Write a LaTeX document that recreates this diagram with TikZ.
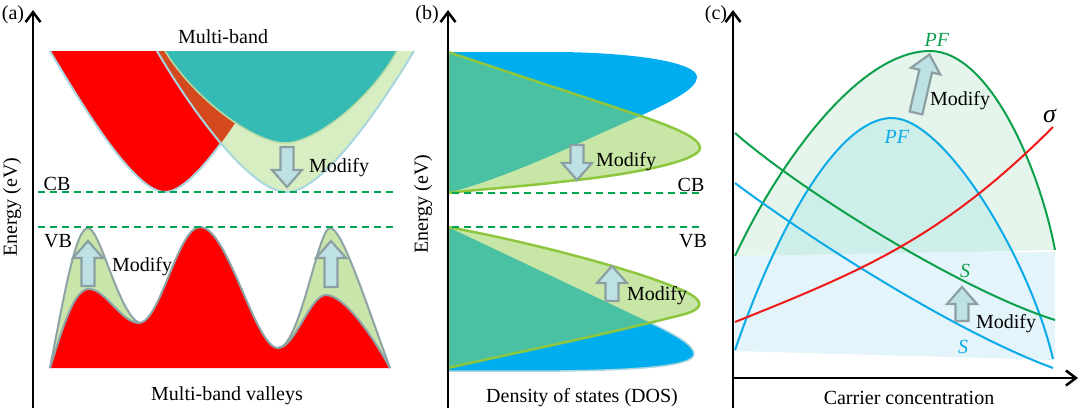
\documentclass[tikz,border=0pt]{standalone}
\usepackage{fontspec}
\setmainfont{Liberation Serif}
\usetikzlibrary{arrows.meta}

\definecolor{bandred}{HTML}{FF0000}
\definecolor{overlaporange}{HTML}{D5491F}
\definecolor{bandteal}{HTML}{36BBB4}
\definecolor{tealedge}{HTML}{B9DDA6}
\definecolor{bandlight}{HTML}{D7EEC3}
\definecolor{bumplight}{HTML}{C9E5A9}
\definecolor{edgeblue}{HTML}{A9D6DE}
\definecolor{edgegray}{HTML}{8DA3A6}
\definecolor{gapgreen}{HTML}{00A651}
\definecolor{dosblue}{HTML}{00AEEF}
\definecolor{dosteal}{HTML}{4BC1A3}
\definecolor{doslight}{HTML}{C8E6A5}
\definecolor{dosedge}{HTML}{8DC63F}
\definecolor{arrowfill}{HTML}{BEE1E6}
\definecolor{arrowedge}{HTML}{8C9FA3}
\definecolor{pfgreen}{HTML}{0DA04A}
\definecolor{pfblue}{HTML}{0BAAE8}
\definecolor{sigmared}{HTML}{F01818}
\definecolor{fillgreen}{HTML}{E5F5EC}
\definecolor{fillblue}{HTML}{E3F4FB}
\definecolor{fillboth}{HTML}{CDEEE9}

\tikzset{
  lbl/.style={font=\fontsize{20}{24}\selectfont, inner sep=0pt},
  axis/.style={line width=2.5pt, -{Straight Barb[length=10pt,width=15pt]}},
  gapline/.style={dash pattern=on 7pt off 5pt, line width=1.6pt, gapgreen},
  arrowbox/.style={fill=arrowfill, draw=arrowedge, line width=2.2pt},
  pics/modarrow/.style={code={
    \draw[arrowbox] (-6.5,0) -- (-6.5,-#1+17) -- (-15,-#1+17) -- (0,-#1)
      -- (15,-#1+17) -- (6.5,-#1+17) -- (6.5,0) -- cycle;}},
}

\begin{document}
\begin{tikzpicture}[x=1pt,y=-1pt]
  \useasboundingbox (0,0) rectangle (1080,408);

  % (a) multi-band
  \def\redvalley{(50,51) -- (280,51) .. controls (245,110) and (195,192) .. (165,192) .. controls (135,192) and (85,110) .. (50,51) -- cycle}
  \def\lightvalley{(157,51) .. controls (190,108) and (250,192) .. (287,192) .. controls (322,192) and (380,108) .. (414,51) -- cycle}
  \fill[bandred] \redvalley;
  \draw[edgeblue, line width=2pt] (50,51) .. controls (85,110) and (135,192) .. (165,192) .. controls (195,192) and (245,110) .. (280,51);
  \fill[bandlight] \lightvalley;
  \begin{scope}
    \clip \lightvalley;
    \fill[overlaporange] \redvalley;
  \end{scope}
  \fill[bandteal] (165,51) .. controls (195,100) and (255,143) .. (285,143) .. controls (315,143) and (370,100) .. (397,51) -- cycle;
  \draw[tealedge, line width=1.5pt] (165,51) .. controls (195,100) and (255,143) .. (285,143) .. controls (315,143) and (370,100) .. (397,51);
  \draw[edgeblue, line width=2pt] (157,51) .. controls (190,108) and (250,192) .. (287,192) .. controls (322,192) and (380,108) .. (414,51);

  \fill[bumplight] (50,368) .. controls (65,290) and (76,228) .. (88,228) .. controls (100,228) and (118,312) .. (139,323) -- cycle;
  \fill[bumplight] (278,348) .. controls (300,348) and (318,228) .. (330,228) .. controls (342,228) and (365,300) .. (390,368) -- cycle;
  \fill[bandred] (50,368) .. controls (65,320) and (75,289) .. (89,289) .. controls (105,289) and (122,323) .. (139,323)
    .. controls (160,323) and (178,227) .. (200,227) .. controls (228,227) and (255,348) .. (278,348)
    .. controls (295,348) and (310,295) .. (326,295) .. controls (345,295) and (375,340) .. (390,368) -- cycle;
  \draw[edgegray, line width=2pt] (50,368) .. controls (65,320) and (75,289) .. (89,289) .. controls (105,289) and (122,323) .. (139,323)
    .. controls (160,323) and (178,227) .. (200,227) .. controls (228,227) and (255,348) .. (278,348)
    .. controls (295,348) and (310,295) .. (326,295) .. controls (345,295) and (375,340) .. (390,368);
  \draw[edgegray, line width=2pt] (50,368) .. controls (65,290) and (76,228) .. (88,228) .. controls (100,228) and (118,312) .. (139,323);
  \draw[edgegray, line width=2pt] (278,348) .. controls (300,348) and (318,228) .. (330,228) .. controls (342,228) and (365,300) .. (390,368);

  \draw[gapline] (38,192) -- (397,192);
  \draw[gapline] (38,227) -- (397,227);
  \pic[rotate=180] at (287,147) {modarrow=40};
  \pic at (88,286) {modarrow=45};
  \pic at (331,287) {modarrow=46};
  \draw[axis] (33,408) -- (33,10);

  \node[lbl] (labA) at (13,15) {(a)};
  \node[lbl, rotate=90] (energyA) at (12,207) {Energy (eV)};
  \node[lbl] (multiband) at (223,37) {Multi-band};
  \node[lbl] (cbA) at (57,184) {CB};
  \node[lbl] (vbA) at (58,241) {VB};
  \node[lbl] (modifyA1) at (339,168) {Modify};
  \node[lbl] (modifyA2) at (142,267) {Modify};
  \node[lbl] (valleys) at (227,396) {Multi-band valleys};

  % (b) density of states
  \def\bluecb{(448,52) -- (560,52) .. controls (640,53) and (697,63) .. (697,77) .. controls (697,88) and (675,100) .. (640,116) .. controls (580,142) and (515,175) .. (448,193) -- cycle}
  \def\greencb{(448,52) -- (635,114) .. controls (680,129) and (700,139) .. (700,148) .. controls (700,160) and (640,173) .. (577,180) .. controls (520,187) and (470,190) .. (448,193) -- cycle}
  \def\bluevb{(448,227) -- (640,318) .. controls (675,334) and (694,345) .. (694,354) .. controls (694,366) and (640,370) .. (560,371) -- (448,371) -- cycle}
  \def\greenvb{(448,227) .. controls (540,244) and (650,274) .. (688,293) .. controls (705,302) and (702,309) .. (685,314) .. controls (600,336) and (500,356) .. (448,368) -- cycle}
  \fill[dosblue] \bluecb;
  \fill[doslight] \greencb;
  \begin{scope}
    \clip \greencb;
    \fill[dosteal] \bluecb;
  \end{scope}
  \draw[dosedge, line width=2.5pt] \greencb;
  \fill[dosblue] \bluevb;
  \draw[edgeblue, line width=1.5pt] \bluevb;
  \fill[doslight] \greenvb;
  \begin{scope}
    \clip \greenvb;
    \fill[dosteal] \bluevb;
  \end{scope}
  \draw[dosedge, line width=2.5pt] \greenvb;

  \draw[gapline] (452,193) -- (700,193);
  \draw[gapline] (452,227) -- (700,227);
  \pic[rotate=180] at (577,145) {modarrow=35};
  \pic at (612,301) {modarrow=35};
  \draw[axis] (448,408) -- (448,10);

  \node[lbl] (labB) at (427,15) {(b)};
  \node[lbl, rotate=90] (energyB) at (423,204) {Energy (eV)};
  \node[lbl] (cbB) at (691,185) {CB};
  \node[lbl] (vbB) at (693,241) {VB};
  \node[lbl] (modifyB1) at (626,162) {Modify};
  \node[lbl] (modifyB2) at (657,296) {Modify};
  \node[lbl] (dos) at (582,398) {Density of states (DOS)};

  % (c) carrier concentration
  \def\greenpf{(735,256) .. controls (780,160) and (860,51) .. (930,51) .. controls (990,51) and (1040,170) .. (1055,250)}
  \def\bluepf{(735,350) .. controls (780,220) and (840,118) .. (892,118) .. controls (945,118) and (1030,260) .. (1053,359)}
  \fill[fillblue] \bluepf -- cycle;
  \fill[fillblue] (735,256) -- (1055,252) -- (1055,360) -- (735,351) -- cycle;
  \fill[fillgreen] \greenpf -- cycle;
  \begin{scope}
    \clip \greenpf -- cycle;
    \fill[fillboth] \bluepf -- cycle;
  \end{scope}
  \draw[pfgreen, line width=2pt] \greenpf;
  \draw[pfblue, line width=2pt] \bluepf;
  \draw[pfgreen, line width=2pt] (735,133) .. controls (800,190) and (960,290) .. (1055,320);
  \draw[pfblue, line width=2pt] (735,183) .. controls (800,232) and (950,330) .. (1053,368);
  \draw[sigmared, line width=2pt] (735,322) .. controls (865,270) and (943,237) .. (1053,127);

  \pic[rotate=-13] at (916,113) {modarrow=60};
  \pic at (962,321) {modarrow=34};
  \draw[axis] (733,408) -- (733,10);
  \draw[axis] (733,378) -- (1078,378);

  \node[lbl] (labC) at (716,15) {(c)};
  \node[lbl, pfgreen] (pfG) at (937,40) {\textit{PF}};
  \node[lbl, pfblue] (pfB) at (897,137) {\textit{PF}};
  \node[lbl, font=\fontsize{26}{30}\selectfont] (sigma) at (1050,116) {\textit{σ}};
  \node[lbl, pfgreen] (sG) at (965,271) {\textit{S}};
  \node[lbl, pfblue] (sB) at (963,347) {\textit{S}};
  \node[lbl] (modifyC1) at (960,101) {Modify};
  \node[lbl] (modifyC2) at (1006,324) {Modify};
  \node[lbl] (carrier) at (909,398) {Carrier concentration};
\end{tikzpicture}
\end{document}
